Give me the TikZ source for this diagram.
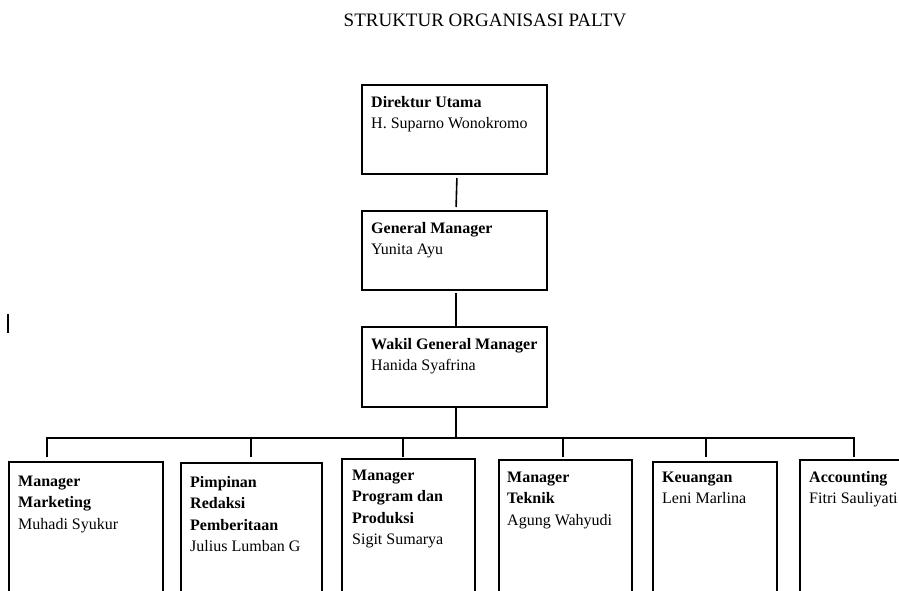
\documentclass[tikz,border=0pt]{standalone}
\usepackage{fontspec}
\setmainfont{Liberation Serif}
\tikzset{
  orgbox/.style={draw, line width=1.6pt, anchor=north west, inner sep=0pt, outer sep=0pt},
  txt/.style={anchor=north west, inner sep=0pt, align=left, font=\fontsize{16}{21.5}\selectfont},
  link/.style={line width=1.6pt},
}
\begin{document}
\begin{tikzpicture}[x=1pt,y=-1pt]
\clip (0,0) rectangle (899,590);
\fill[white] (0,0) rectangle (899,590);
% title
\node[inner sep=0pt, anchor=base, font=\fontsize{19}{22}\selectfont] (title) at (485,26) {STRUKTUR ORGANISASI PALTV};
% top boxes
\node[orgbox, minimum width=185pt, minimum height=89pt] (du) at (362,85) {};
\node[orgbox, minimum width=185pt, minimum height=79pt] (gm) at (362,211) {};
\node[orgbox, minimum width=185pt, minimum height=80pt] (wgm) at (362,327) {};
\node[txt] (tdu) at ([xshift=9pt,yshift=-7pt]du.north west) {\strut\textbf{Direktur Utama}\\H. Suparno Wonokromo};
\node[txt] (tgm) at ([xshift=9pt,yshift=-7pt]gm.north west) {\strut\textbf{General Manager}\\Yunita Ayu};
\node[txt] (twgm) at ([xshift=9pt,yshift=-7pt]wgm.north west) {\strut\textbf{Wakil General Manager}\\Hanida Syafrina};
% bottom boxes
\node[orgbox, minimum width=154pt, minimum height=160pt] (b1) at (9,462) {};
\node[orgbox, minimum width=141pt, minimum height=160pt] (b2) at (181,463) {};
\node[orgbox, minimum width=133pt, minimum height=160pt] (b3) at (342,459) {};
\node[orgbox, minimum width=133pt, minimum height=160pt] (b4) at (499,460) {};
\node[orgbox, minimum width=124pt, minimum height=160pt] (b5) at (653,462) {};
\node[orgbox, minimum width=140pt, minimum height=160pt] (b6) at (800,460) {};
\node[txt] (t1) at ([xshift=9pt,yshift=-9pt]b1.north west) {\strut\textbf{Manager}\\\textbf{Marketing}\\Muhadi Syukur};
\node[txt] (t2) at ([xshift=9pt,yshift=-9pt]b2.north west) {\strut\textbf{Pimpinan}\\\textbf{Redaksi}\\\textbf{Pemberitaan}\\Julius Lumban G};
\node[txt] (t3) at ([xshift=10pt,yshift=-6pt]b3.north west) {\strut\textbf{Manager}\\\textbf{Program dan}\\\textbf{Produksi}\\Sigit Sumarya};
\node[txt] (t4) at ([xshift=8pt,yshift=-7pt]b4.north west) {\strut\textbf{Manager}\\\textbf{Teknik}\\Agung Wahyudi};
\node[txt] (t5) at ([xshift=9pt,yshift=-5pt]b5.north west) {\strut\textbf{Keuangan}\\Leni Marlina};
\node[txt] (t6) at ([xshift=9pt,yshift=-7pt]b6.north west) {\strut\textbf{Accounting}\\Fitri Sauliyati};
% connectors
\draw[link, shorten <=4pt, shorten >=4pt] ([xshift=2.5pt]du.south) -- ([xshift=1.5pt]gm.north);
\draw[link, shorten <=3pt] ([xshift=1.5pt]gm.south) -- ([xshift=1.5pt]wgm.north);
\coordinate (bus) at (456,438);
\coordinate (d1) at (47,438);
\coordinate (d2) at (251,438);
\coordinate (d3) at (403,438);
\coordinate (d4) at (563,438);
\coordinate (d5) at (706,438);
\coordinate (d6) at (854,438);
\draw[link] ([xshift=1.5pt]wgm.south) -- (bus);
\draw[link, line cap=rect] (d1) -- (d6);
\draw[link, shorten >=5pt] (d1) -- (d1 |- b1.north);
\draw[link, shorten >=6pt] (d2) -- (d2 |- b2.north);
\draw[link, shorten >=2pt] (d3) -- (d3 |- b3.north);
\draw[link, shorten >=3pt] (d4) -- (d4 |- b4.north);
\draw[link, shorten >=5pt] (d5) -- (d5 |- b5.north);
\draw[link, shorten >=3pt] (d6) -- (d6 |- b6.north);
% stray mark
\draw[line width=1.3pt] (8,314) -- (8,333);
\end{tikzpicture}
\end{document}
